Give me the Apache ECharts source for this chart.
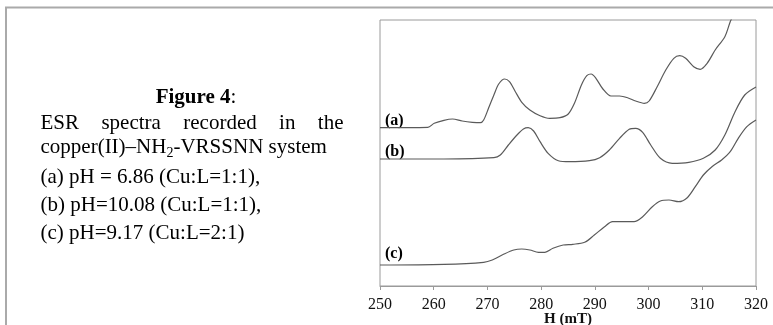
<!DOCTYPE html>
<html><head><meta charset="utf-8">
<script src="https://cdn.jsdelivr.net/npm/echarts@6/dist/echarts.min.js"></script>
<style>html,body{margin:0;padding:0;background:#fff}#c{width:773px;height:325px}</style>
</head><body><div id="c"></div>
<script>
// ---- data (x: H in mT, y: relative signal units, offset traces) ----
const H_A = [250,258.9,260.1,261.9,263.5,265.3,267.2,268.7,269.3,270.2,271.2,272.1,273.2,274.1,275.2,276.4,277.9,279.8,281.6,283.5,285,286.2,287.5,288.5,289.3,290.2,291.5,293,294.6,296.1,297.6,299.2,300.1,301.6,303.2,304.7,305.8,306.9,308.4,309.6,310.9,312.4,314.2,315.2,315.5];
const V_A = [158.3,158.7,162.7,165.7,167,165,163.7,163.3,166,177.7,191,202,207,204.3,194.3,183.7,176,170.3,167.7,168.3,171.7,182.7,201,210.3,212,207.7,197,190,190,188.3,185,182.7,185,199.3,216,227.7,230.3,227.7,219.3,216.7,222.7,236,249.3,264.3,267.7];
const H_B = [250,261.9,271.2,272.4,273.9,275.5,276.7,277.6,278.6,279.8,281.3,283.2,285.3,289,290.9,292.7,294.6,296.4,297.6,298.9,300.4,302.2,304.4,307.5,310.2,312.4,314.2,316.1,317.9,320];
const V_B = [127,127,128.3,131,141,151,157,158.3,155,144.3,132.7,125.3,124.3,125.3,128.3,136,147.7,156.7,157.7,153.7,141,127.7,122.7,123.7,127.7,136,151,174.3,191,199];
const H_C = [250,261.9,269.3,270.9,273,274.9,276.4,277.9,279.5,280.7,282.2,284.1,285.9,288.1,289.9,291.8,293.3,295.2,297.3,298.9,300.7,302.2,303.8,305.6,307.2,308.7,310.2,311.8,313.6,315.2,316.7,318.3,320];
const V_C = [21,21.7,23.7,26,31.7,36,37,36,33.7,33.7,37.7,41,41.7,43.7,51,59.3,64.3,64.3,64.3,69.3,79.3,85,86,84.3,88.3,99.3,111,119.3,126,134.3,147.7,159.3,166];
const TRACE_LABELS = ['(a)','(b)','(c)'];
const X_MIN = 250, X_MAX = 320, X_STEP = 10;
const Y_MIN = 0, Y_MAX = 266;

const CAPTION_TITLE = 'Figure 4';
const CAPTION_WORDS = ['ESR','spectra','recorded','in','the'];
const CAPTION_L2 = ['copper(II)\u2013NH','2','-VRSSNN system'];
const CAPTION_LINES = ['(a) pH = 6.86 (Cu:L=1:1),','(b) pH=10.08 (Cu:L=1:1),','(c) pH=9.17 (Cu:L=2:1)'];

const zip = (xs, ys) => xs.map((x, i) => [x, ys[i]]);
const SERIF = '"Liberation Serif","Times New Roman",serif';
const ctx = document.createElement('canvas').getContext('2d');
function tw(text, font){ ctx.font = font; return ctx.measureText(text).width; }

const F = 21;
const fontN = F + 'px ' + SERIF;
const fontB = 'bold ' + F + 'px ' + SERIF;
function txt(x, y, text, font, align){
  return {type:'text', x:x, y:y, silent:true,
    style:{text:text, font:font, fill:'#000', textAlign:align||'left', align:align||'left', textVerticalAlign:'middle', verticalAlign:'middle'}};
}
const g = [];
g.push({type:'line', shape:{x1:5, y1:7.5, x2:773, y2:7.5}, style:{stroke:'#aaaaaa', lineWidth:2}, silent:true});
g.push({type:'line', shape:{x1:6, y1:7, x2:6, y2:325}, style:{stroke:'#aaaaaa', lineWidth:2}, silent:true});
const wT = tw(CAPTION_TITLE, fontB), wC = tw(':', fontN);
const tx0 = 196 - (wT + wC) / 2;
g.push(txt(tx0, 97.5, CAPTION_TITLE, fontB));
g.push(txt(tx0 + wT, 97.5, ':', fontN));
const L = 40.5, R = 343.5;
const ws = CAPTION_WORDS.map(w => tw(w, fontN));
const gap = (R - L - ws.reduce((a,b)=>a+b,0)) / (CAPTION_WORDS.length - 1);
let cx = L;
CAPTION_WORDS.forEach((w,i) => { g.push(txt(cx, 123, w, fontN)); cx += ws[i] + gap; });
const fontS = Math.round(F*0.65) + 'px ' + SERIF;
let x2 = 40.5;
g.push(txt(x2, 147, CAPTION_L2[0], fontN)); x2 += tw(CAPTION_L2[0], fontN);
g.push(txt(x2, 153, CAPTION_L2[1], fontS)); x2 += tw(CAPTION_L2[1], fontS);
g.push(txt(x2, 147, CAPTION_L2[2], fontN));
[177.5, 205.5, 233.5].forEach((y,i) => g.push(txt(40.5, y, CAPTION_LINES[i], fontN)));
const fontL = 'bold 16px ' + SERIF;
g.push(txt(385, 121, TRACE_LABELS[0], fontL));
g.push(txt(385, 152, TRACE_LABELS[1], fontL));
g.push(txt(385, 253.5, TRACE_LABELS[2], fontL));

const line = (d) => ({type:'line', data:d, showSymbol:false, smooth:0.3, clip:true,
  lineStyle:{color:'#5a5a5a', width:1.2}, silent:true, animation:false});

const chart = echarts.init(document.getElementById('c'), null, {renderer:'canvas'});
chart.setOption({
  animation:false,
  grid:{left:380, top:20, width:376, height:266, show:true, borderColor:'#9a9a9a', borderWidth:1, containLabel:false, outerBoundsMode:'none'},
  xAxis:{type:'value', min:X_MIN, max:X_MAX, interval:X_STEP,
    axisLine:{show:true, onZero:false, lineStyle:{color:'#9a9a9a', width:1}},
    axisTick:{show:true, inside:false, length:4, lineStyle:{color:'#9a9a9a'}},
    axisLabel:{fontFamily:SERIF, fontSize:16, color:'#111', margin:11},
    splitLine:{show:false},
    name:'H (mT)', nameLocation:'middle', nameGap:26, nameMoveOverlap:false,
    nameTextStyle:{fontFamily:SERIF, fontSize:15, fontWeight:'bold', color:'#111'}},
  yAxis:{type:'value', min:Y_MIN, max:Y_MAX, axisLine:{show:false}, axisTick:{show:false}, axisLabel:{show:false}, splitLine:{show:false}},
  series:[line(zip(H_A,V_A)), line(zip(H_B,V_B)), line(zip(H_C,V_C))],
  graphic:{elements:g}
});
</script></body></html>
